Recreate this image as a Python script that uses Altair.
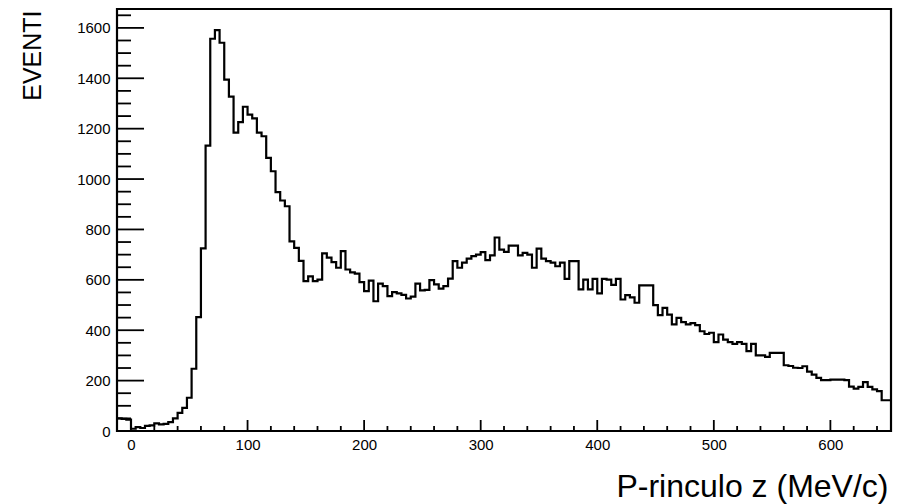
import altair as alt
import pandas as pd

# Histogram: P-rinculo z (MeV/c), bins of 4 MeV/c starting at -12
BIN_START = -12
BIN_WIDTH = 4
counts = [
    50, 48, 45, 9, 15, 12, 20, 22, 30, 26, 28, 35, 50, 72, 92, 132,
    247, 452, 725, 1133, 1557, 1591, 1541, 1395, 1327, 1184, 1226, 1287, 1256, 1241, 1184, 1170,
    1084, 1031, 948, 915, 892, 753, 727, 675, 595, 614, 595, 601, 705, 688, 670, 648,
    714, 641, 630, 625, 591, 555, 597, 515, 585, 575, 535, 551, 546, 540, 526, 533,
    585, 558, 560, 599, 582, 565, 575, 605, 674, 648, 668, 684, 694, 700, 710, 678,
    697, 768, 720, 711, 736, 736, 697, 707, 700, 648, 724, 684, 674, 668, 654, 668,
    604, 674, 674, 562, 601, 562, 604, 546, 604, 601, 580, 604, 522, 539, 530, 509,
    578, 578, 578, 500, 460, 489, 462, 423, 449, 432, 423, 428, 420, 396, 385, 390,
    353, 383, 363, 353, 346, 353, 346, 317, 346, 300, 300, 294, 310, 310, 310, 261,
    258, 251, 250, 257, 236, 224, 211, 202, 202, 204, 204, 204, 202, 176, 168, 175,
    194, 175, 165, 158, 122, 122,
]

x_major = [0, 100, 200, 300, 400, 500, 600]
x_minor = [20, 40, 60, 80, 120, 140, 160, 180, 220, 240, 260, 280, 320, 340, 360, 380,
           420, 440, 460, 480, 520, 540, 560, 580, 620, 640]
y_major = [0, 200, 400, 600, 800, 1000, 1200, 1400, 1600]
y_minor = [50, 100, 150, 250, 300, 350, 450, 500, 550, 650, 700, 750, 850, 900, 950,
           1050, 1100, 1150, 1250, 1300, 1350, 1450, 1500, 1550, 1650]

X_DOMAIN = [-12, 652]
Y_DOMAIN = [0, 1675]

W, H = 774, 422

edges = [BIN_START + i * BIN_WIDTH for i in range(len(counts) + 1)]
hist = pd.DataFrame({"x": edges, "y": counts + [counts[-1]]})

xscale = alt.Scale(domain=X_DOMAIN, nice=False, zero=False)
yscale = alt.Scale(domain=Y_DOMAIN, nice=False, zero=False)

FONT = "Liberation Sans"

xaxis = alt.Axis(values=x_major, format="d", ticks=False, tickSize=0, domain=False, grid=False,
                 labelFont=FONT, labelFontSize=15, labelColor="black",
                 labelPadding=6, labelBaseline="top",
                 title="P-rinculo z (MeV/c)", titleFont=FONT, titleFontSize=32,
                 titleFontWeight="normal", titleColor="black",
                 titleX=771, titleY=65, titleAlign="right",
                 titleBaseline="alphabetic")
yaxis = alt.Axis(values=y_major, format="d", ticks=False, tickSize=0, domain=False, grid=False,
                 labelFont=FONT, labelFontSize=15, labelColor="black",
                 labelPadding=7,
                 title="EVENTI", titleFont=FONT, titleFontSize=25,
                 titleFontWeight="normal", titleColor="black",
                 titleX=-77, titleY=1, titleAlign="right", titleAngle=270,
                 titleBaseline="alphabetic")

line = alt.Chart(hist).mark_line(
    interpolate="step-after", color="black", strokeWidth=2.2
).encode(
    x=alt.X("x:Q", scale=xscale, axis=xaxis),
    y=alt.Y("y:Q", scale=yscale, axis=yaxis),
)

def yticks(vals, length):
    return alt.Chart(pd.DataFrame({"y": vals})).mark_rule(
        color="black", strokeWidth=1.8
    ).encode(
        y=alt.Y("y:Q", scale=yscale, axis=yaxis),
        x=alt.value(0), x2=alt.value(length),
    )

def xticks(vals, length):
    return alt.Chart(pd.DataFrame({"x": vals})).mark_rule(
        color="black", strokeWidth=1.8
    ).encode(
        x=alt.X("x:Q", scale=xscale, axis=xaxis),
        y=alt.value(H), y2=alt.value(H - length),
    )

chart = alt.layer(
    line,
    yticks(y_major, 27), yticks(y_minor, 14),
    xticks(x_major, 11), xticks(x_minor, 5),
).properties(
    width=W, height=H,
    autosize=alt.AutoSizeParams(type="none"),
    padding={"left": 117, "top": 9, "right": 6, "bottom": 73},
    background="white",
).configure_view(
    stroke="black", strokeWidth=2.2
)

chart.save("out.html", embed_options={"renderer": "svg", "actions": False})
